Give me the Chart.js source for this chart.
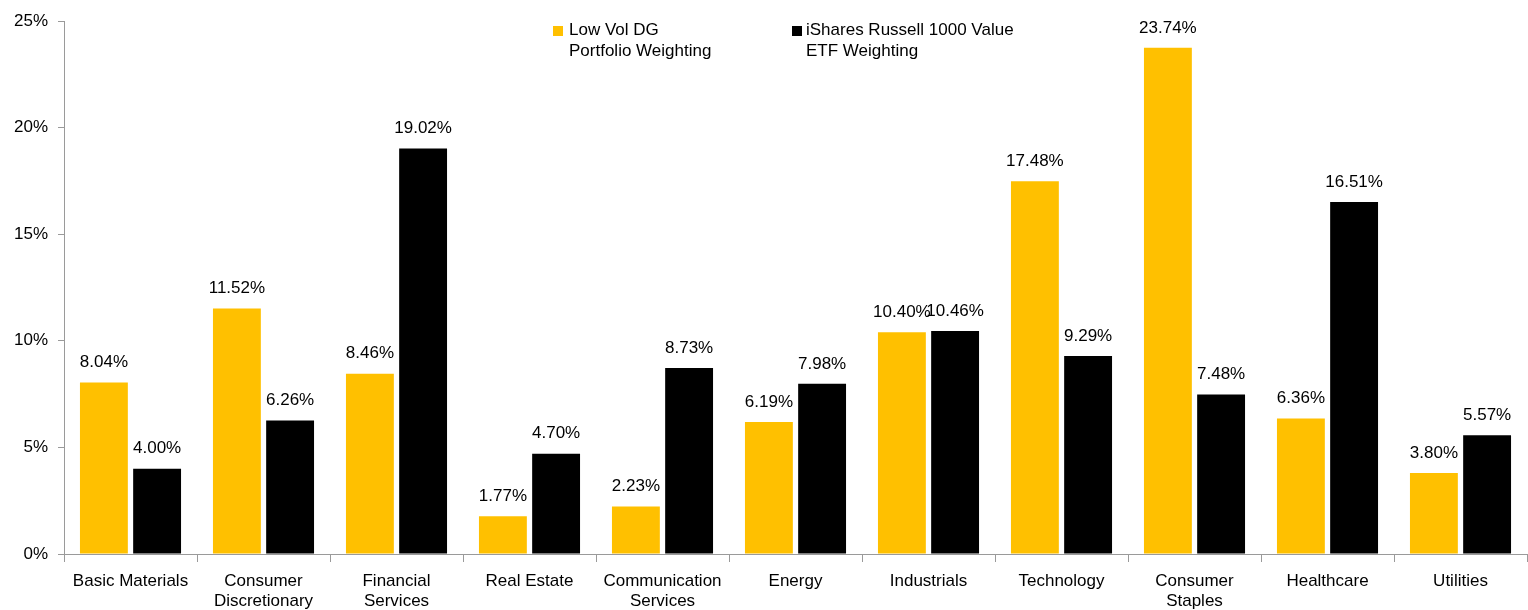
<!DOCTYPE html>
<html>
<head>
<meta charset="utf-8">
<script src="https://cdn.jsdelivr.net/npm/chart.js@4.4.0/dist/chart.umd.min.js"></script>
<style>
  body { margin: 0; background: #fff; }
</style>
</head>
<body>
<canvas id="myChart" width="1528" height="610"></canvas>
<script>
const sectors = [
    'Basic Materials', ['Consumer', 'Discretionary'], ['Financial', 'Services'], 'Real Estate',
    ['Communication', 'Services'], 'Energy', 'Industrials', 'Technology',
    ['Consumer', 'Staples'], 'Healthcare', 'Utilities'
];
const lowVolWeights = [8.04, 11.52, 8.46, 1.77, 2.23, 6.19, 10.40, 17.48, 23.74, 6.36, 3.80];
const russellWeights = [4.00, 6.26, 19.02, 4.70, 8.73, 7.98, 10.46, 9.29, 7.48, 16.51, 5.57];
const seriesNames = [
    ['Low Vol DG', 'Portfolio Weighting'],
    ['iShares Russell 1000 Value', 'ETF Weighting']
];

const FONT = "'Liberation Sans', Arial, sans-serif";
const ctx = document.getElementById('myChart').getContext('2d');

// value labels above each bar + the two-line legend at the top
const labelsPlugin = {
    id: 'barLabels',
    afterDatasetsDraw(chart) {
        const c = chart.ctx;
        c.save();
        c.font = '17px ' + FONT;
        c.fillStyle = '#000';
        c.textAlign = 'center';
        c.textBaseline = 'middle';
        chart.data.datasets.forEach((ds, i) => {
            chart.getDatasetMeta(i).data.forEach((bar, j) => {
                c.fillText(ds.data[j].toFixed(2) + '%', bar.x, bar.y - 20);
            });
        });

        // legend
        const items = [{ x: 553, text: 569 }, { x: 792, text: 806 }];
        c.textAlign = 'left';
        chart.data.datasets.forEach((ds, i) => {
            c.fillStyle = ds.backgroundColor;
            c.fillRect(items[i].x, 26, 10, 10);
            c.fillStyle = '#000';
            ds.label.forEach((line, k) => {
                c.fillText(line, items[i].text, 30 + k * 21);
            });
        });
        c.restore();
    }
};

new Chart(ctx, {
    type: 'bar',
    data: {
        labels: sectors,
        datasets: [
            {
                label: seriesNames[0],
                data: lowVolWeights,
                backgroundColor: '#FFC000',
                categoryPercentage: 0.8,
                barPercentage: 0.9
            },
            {
                label: seriesNames[1],
                data: russellWeights,
                backgroundColor: '#000000',
                categoryPercentage: 0.8,
                barPercentage: 0.9
            }
        ]
    },
    options: {
        responsive: false,
        animation: false,
        layout: { padding: { top: 21, right: 1, left: 0, bottom: 0 } },
        plugins: {
            legend: { display: false },
            tooltip: { enabled: false }
        },
        scales: {
            x: {
                grid: {
                    drawOnChartArea: false,
                    drawTicks: true,
                    tickLength: 8,
                    color: '#9a9a9a'
                },
                border: { color: '#9a9a9a', width: 1 },
                ticks: {
                    color: '#000',
                    font: { family: FONT, size: 17, lineHeight: 1.2 },
                    padding: 9,
                    maxRotation: 0,
                    autoSkip: false
                },
                afterFit(scale) { scale.height = 56; }
            },
            y: {
                min: 0,
                max: 25,
                grid: {
                    drawOnChartArea: false,
                    drawTicks: true,
                    tickLength: 6,
                    color: '#9a9a9a'
                },
                border: { color: '#9a9a9a', width: 1 },
                ticks: {
                    stepSize: 5,
                    color: '#000',
                    padding: 10,
                    font: { family: FONT, size: 17 },
                    callback: v => v + '%'
                },
                afterFit(scale) { scale.width = 64; }
            }
        }
    },
    plugins: [labelsPlugin]
});
</script>
</body>
</html>
